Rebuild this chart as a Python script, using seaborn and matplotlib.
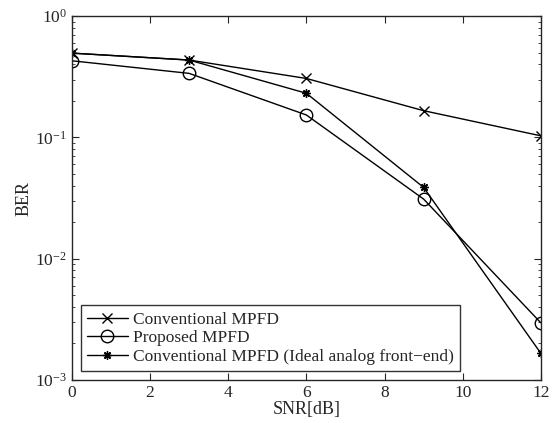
import pandas as pd
import seaborn as sns
import matplotlib
matplotlib.use("Agg")
import matplotlib.pyplot as plt

# SNR points and BER values
snr = [0, 3, 6, 9, 12]
ber_conventional = [0.495, 0.434, 0.306, 0.166, 0.103]
ber_proposed = [0.428, 0.337, 0.153, 0.031, 0.00296]
ber_ideal = [0.495, 0.434, 0.231, 0.0387, 0.00166]
labels = ["Conventional MPFD", "Proposed MPFD",
          "Conventional MPFD (Ideal analog front\u2212end)"]

sns.set_style("ticks")
plt.rcParams['font.family'] = ['Liberation Serif', 'DejaVu Serif']
plt.rcParams['mathtext.fontset'] = 'custom'
plt.rcParams['mathtext.rm'] = 'Liberation Serif'
plt.rcParams['mathtext.it'] = 'Liberation Serif:italic'
plt.rcParams['mathtext.default'] = 'rm'
plt.rcParams['xtick.direction'] = 'in'
plt.rcParams['ytick.direction'] = 'in'

fig = plt.figure(figsize=(5.53, 4.23), dpi=100)
ax = fig.add_axes([0.130, 0.1017, 0.848, 0.8603])

# x, circle and an 8-arm asterisk like MATLAB's '*'
markers = ["x", "o", (8, 2, 0)]
msizes = [7, 9, 6]
for vals, lab, mk, ms in zip([ber_conventional, ber_proposed, ber_ideal], labels, markers, msizes):
    df = pd.DataFrame({"snr": snr, "ber": vals})
    sns.lineplot(data=df, x="snr", y="ber", ax=ax, color="black", linewidth=1.0,
                 marker=mk, markersize=ms, markerfacecolor="none",
                 markeredgecolor="black", markeredgewidth=1.0, label=lab)

ax.set_yscale("log")
ax.set_xlim(0, 12)
ax.set_ylim(1e-3, 1)
ax.set_xticks(range(0, 13, 2))
ax.set_xlabel("SNR[dB]", fontsize=13, labelpad=0)
ax.set_ylabel("BER", fontsize=13, labelpad=2)
ax.tick_params(axis="both", which="both", top=True, right=True, labelsize=12.5)
ax.tick_params(which="major", length=5)
ax.tick_params(which="minor", length=2.5)
for s in ax.spines.values():
    s.set_linewidth(1.0)

leg = ax.legend(loc="lower left", fontsize=12.5, frameon=True, fancybox=False,
                edgecolor="black", borderpad=0.35, labelspacing=0.15,
                handlelength=2.4, handletextpad=0.25, borderaxespad=0.5)
leg.get_frame().set_linewidth(1.0)

fig.savefig("out.png", dpi=100)
